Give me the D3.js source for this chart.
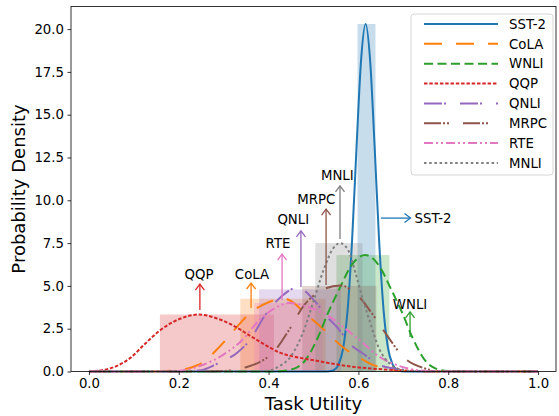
<!DOCTYPE html>
<html>
<head>
<meta charset="utf-8">
<script src="https://cdn.jsdelivr.net/npm/d3@7"></script>
<style>
  body { margin: 0; background: #fff; }
  svg { display: block; font-family: "DejaVu Sans", sans-serif; }
</style>
</head>
<body>
<svg width="559" height="416"></svg>
<script>
// tasks in legend order
const tasks = ["SST-2", "CoLA", "WNLI", "QQP", "QNLI", "MRPC", "RTE", "MNLI"];

// density curves: [utility, density]
const sst2Curve = [[0, 0], [0.52, 0], [0.536, 0.02], [0.546, 0.1], [0.556, 0.42], [0.566, 1.36], [0.576, 3.6], [0.586, 7.7], [0.596, 13.2], [0.606, 18.2], [0.616, 20.3], [0.626, 18.2], [0.636, 13.2], [0.646, 7.7], [0.656, 3.6], [0.666, 1.36], [0.676, 0.42], [0.686, 0.1], [0.696, 0.02], [0.71, 0], [1, 0]];
const colaCurve = [[0, 0], [0.14, 0], [0.18, 0.04], [0.21, 0.12], [0.24, 0.35], [0.26, 0.65], [0.28, 1.15], [0.31, 2.0], [0.336, 2.8], [0.358, 3.4], [0.388, 3.9], [0.41, 4.15], [0.432, 4.27], [0.459, 3.95], [0.48, 3.4], [0.508, 2.8], [0.537, 2.1], [0.564, 1.45], [0.586, 1.05], [0.61, 0.7], [0.627, 0.45], [0.655, 0.2], [0.7, 0.05], [0.75, 0], [1, 0]];
const wnliCurve = [[0, 0], [0.4, 0], [0.43, 0.03], [0.46, 0.2], [0.48, 0.6], [0.51, 2.0], [0.532, 3.4], [0.559, 4.9], [0.582, 6.1], [0.6, 6.65], [0.615, 6.8], [0.63, 6.65], [0.648, 6.1], [0.671, 4.9], [0.698, 3.4], [0.72, 2.0], [0.75, 0.6], [0.77, 0.2], [0.8, 0.03], [0.83, 0], [1, 0]];
const qqpCurve = [[0, 0], [0.01, 0.02], [0.03, 0.08], [0.06, 0.3], [0.09, 0.75], [0.128, 1.7], [0.158, 2.4], [0.2, 3.05], [0.245, 3.33], [0.285, 3.1], [0.32, 2.7], [0.358, 2.1], [0.396, 1.5], [0.425, 1.1], [0.46, 0.85], [0.504, 0.64], [0.544, 0.45], [0.58, 0.3], [0.63, 0.17], [0.7, 0.06], [0.78, 0.01], [0.85, 0], [1, 0]];
const qnliCurve = [[0, 0], [0.2, 0], [0.25, 0.08], [0.285, 0.45], [0.33, 1.1], [0.36, 1.9], [0.39, 3.2], [0.425, 4.3], [0.465, 4.9], [0.5, 4.2], [0.53, 3.2], [0.552, 2.6], [0.586, 1.5], [0.61, 1.05], [0.65, 0.35], [0.68, 0.18], [0.72, 0.05], [0.76, 0], [1, 0]];
const mrpcCurve = [[0, 0], [0.25, 0], [0.3, 0.03], [0.35, 0.25], [0.38, 0.55], [0.41, 1.1], [0.445, 2.4], [0.48, 3.9], [0.515, 4.7], [0.559, 5.03], [0.6, 4.4], [0.63, 3.4], [0.664, 2.1], [0.7, 0.85], [0.745, 0.2], [0.78, 0.03], [0.82, 0], [1, 0]];
const rteCurve = [[0, 0], [0.17, 0], [0.2, 0.03], [0.25, 0.35], [0.3, 1.0], [0.34, 1.8], [0.376, 2.9], [0.414, 3.7], [0.447, 4.0], [0.49, 3.75], [0.53, 3.3], [0.566, 2.6], [0.604, 1.8], [0.649, 0.82], [0.678, 0.45], [0.72, 0.12], [0.76, 0.02], [0.8, 0], [1, 0]];
const mnliCurve = [[0, 0], [0.37, 0], [0.4, 0.05], [0.42, 0.25], [0.45, 0.9], [0.477, 2.3], [0.5, 4.1], [0.522, 5.9], [0.544, 7.2], [0.559, 7.5], [0.577, 7.1], [0.593, 5.8], [0.61, 4.2], [0.627, 2.8], [0.645, 1.4], [0.67, 0.45], [0.7, 0.08], [0.73, 0], [1, 0]];

// shaded bars behind each curve
const barStart = [0.598, 0.337, 0.551, 0.158, 0.379, 0.475, 0.368, 0.504];
const barEnd = [0.638, 0.527, 0.669, 0.412, 0.561, 0.64, 0.52, 0.609];
const barHeight = [20.3, 4.25, 6.8, 3.33, 4.8, 5.0, 4.0, 7.5];

// annotation anchors: arrow tail, arrow tip, label position (data units)
const annTail = [[0.65, 8.96], [0.361, 3.71], [0.715, 2.02], [0.247, 3.59], [0.472, 4.94], [0.528, 5.05], [0.43, 4.18], [0.559, 7.74]];
const annTip = [[0.716, 8.96], [0.361, 5.17], [0.715, 3.48], [0.247, 5.11], [0.472, 8.21], [0.528, 9.49], [0.43, 6.86], [0.559, 10.84]];
const annLabel = [[0.725, 8.96], [0.363, 5.69], [0.715, 3.94], [0.245, 5.69], [0.455, 8.91], [0.506, 10.08], [0.421, 7.5], [0.553, 11.47]];

const xTicks = [0, 0.2, 0.4, 0.6, 0.8, 1.0];
const yTicks = [0, 2.5, 5, 7.5, 10, 12.5, 15, 17.5, 20];

const curves = [sst2Curve, colaCurve, wnliCurve, qqpCurve, qnliCurve, mrpcCurve, rteCurve, mnliCurve];
const colors = ["#1f77b4", "#ff7f0e", "#2ca02c", "#d62728", "#9467bd", "#8c564b", "#e377c2", "#7f7f7f"];
const dashes = [null, "18,14", "9,4.5", "3.5,1.8", "18,2,2,14", "17,2,2,2,2,14", "9,3,2,3,2,3", "2.5,2.7"];

const svg = d3.select("svg");
const width = +svg.attr("width");
const height = +svg.attr("height");

const margin = { top: 6.5, right: 3, bottom: 44.5, left: 71 };
const innerWidth = width - margin.left - margin.right;
const innerHeight = height - margin.top - margin.bottom;

const xScale = d3.scaleLinear().domain([-0.04, 1.04]).range([0, innerWidth]);
const yScale = d3.scaleLinear().domain([0, 21.32]).range([innerHeight, 0]);

const g = svg.append("g").attr("transform", `translate(${margin.left},${margin.top})`);

// bars first
const barG = g.append("g");
tasks.forEach((t, i) => {
  barG.append("rect")
    .attr("x", xScale(barStart[i]))
    .attr("y", yScale(barHeight[i]))
    .attr("width", xScale(barEnd[i]) - xScale(barStart[i]))
    .attr("height", yScale(0) - yScale(barHeight[i]))
    .attr("fill", colors[i])
    .attr("fill-opacity", 0.25);
});

// curves
const lineGen = d3.line()
  .x((d) => xScale(d[0]))
  .y((d) => yScale(d[1]))
  .curve(d3.curveMonotoneX);

tasks.forEach((t, i) => {
  g.append("path")
    .datum(curves[i])
    .attr("d", lineGen)
    .attr("fill", "none")
    .attr("stroke", colors[i])
    .attr("stroke-width", 2)
    .attr("stroke-dasharray", dashes[i]);
});

// annotations
const annG = g.append("g");
tasks.forEach((t, i) => {
  const x0 = xScale(annTail[i][0]), y0 = yScale(annTail[i][1]);
  const x1 = xScale(annTip[i][0]), y1 = yScale(annTip[i][1]);
  const ang = Math.atan2(y1 - y0, x1 - x0);
  const hl = 6, hw = 4.5;
  const bx = x1 - hl * Math.cos(ang), by = y1 - hl * Math.sin(ang);
  const px = -Math.sin(ang) * hw, py = Math.cos(ang) * hw;
  annG.append("line")
    .attr("x1", x0).attr("y1", y0).attr("x2", x1).attr("y2", y1)
    .attr("stroke", colors[i]).attr("stroke-width", 1.3);
  annG.append("path")
    .attr("d", `M${bx + px},${by + py}L${x1},${y1}L${bx - px},${by - py}`)
    .attr("fill", "none")
    .attr("stroke", colors[i]).attr("stroke-width", 1.3);
  const horiz = Math.abs(y1 - y0) < 1;
  annG.append("text")
    .attr("x", xScale(annLabel[i][0]))
    .attr("y", yScale(annLabel[i][1]))
    .attr("dy", "0.35em")
    .attr("text-anchor", horiz ? "start" : "middle")
    .style("font-size", "13.3px")
    .attr("fill", "#000")
    .text(t);
});

// axes
const xAxis = d3.axisBottom(xScale).tickValues(xTicks).tickSize(3.5).tickPadding(3.5).tickFormat(d3.format(".1f"));
const yAxis = d3.axisLeft(yScale).tickValues(yTicks).tickSize(3.5).tickPadding(3.5).tickFormat(d3.format(".1f"));

const xAxisG = g.append("g").attr("transform", `translate(0,${innerHeight})`).call(xAxis);
const yAxisG = g.append("g").call(yAxis);
[xAxisG, yAxisG].forEach((a) => {
  a.attr("font-size", null).attr("font-family", null);
  a.select(".domain").remove();
  a.selectAll("text").style("font-size", "13.3px").attr("fill", "#000");
  a.selectAll("line").attr("stroke", "#000").attr("stroke-width", 0.8);
});

// frame
g.append("rect")
  .attr("width", innerWidth)
  .attr("height", innerHeight)
  .attr("fill", "none")
  .attr("stroke", "#000")
  .attr("stroke-width", 0.8);

g.append("text")
  .attr("x", innerWidth / 2)
  .attr("y", innerHeight + 38)
  .attr("text-anchor", "middle")
  .style("font-size", "18px")
  .text("Task Utility");

g.append("text")
  .attr("transform", "rotate(-90)")
  .attr("x", -innerHeight / 2)
  .attr("y", -46)
  .attr("text-anchor", "middle")
  .style("font-size", "18px")
  .text("Probability Density");

// legend
const legend = svg.append("g").attr("transform", "translate(411,14)");
legend.append("rect")
  .attr("width", 142)
  .attr("height", 161)
  .attr("rx", 3)
  .attr("fill", "#fff")
  .attr("fill-opacity", 0.8)
  .attr("stroke", "#ccc")
  .attr("stroke-width", 0.8);

tasks.forEach((t, i) => {
  const y = 10 + i * 19.85;
  legend.append("line")
    .attr("x1", 13).attr("x2", 87)
    .attr("y1", y).attr("y2", y)
    .attr("stroke", colors[i])
    .attr("stroke-width", 2)
    .attr("stroke-dasharray", dashes[i]);
  legend.append("text")
    .attr("x", 98)
    .attr("y", y)
    .attr("dy", "0.35em")
    .style("font-size", "13.3px")
    .text(t);
});
</script>
</body>
</html>
